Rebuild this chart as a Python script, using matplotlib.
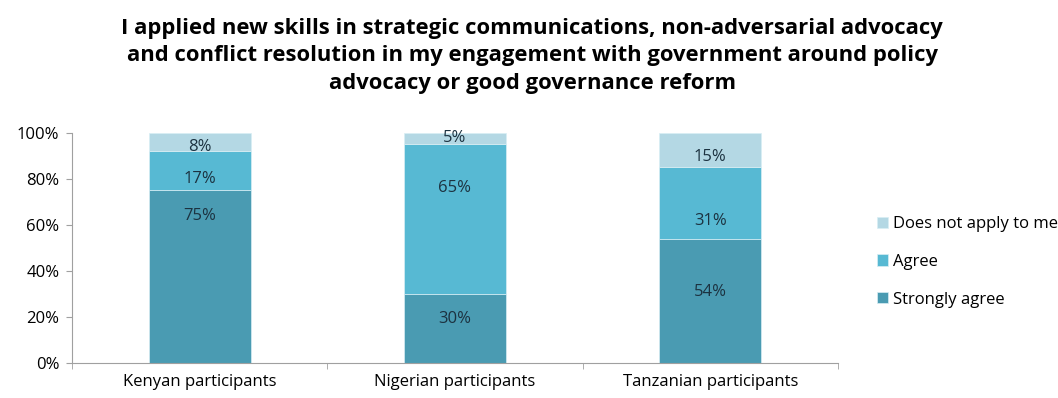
import numpy as np
from matplotlib import pyplot as plt

plt.rcParams['font.family'] = ['Open Sans', 'DejaVu Sans']

# survey data (percent)
groups = ["Kenyan participants", "Nigerian participants", "Tanzanian participants"]
strongly_agree = [75, 30, 54]
agree = [17, 65, 31]
not_apply = [8, 5, 15]

# where the value labels sit (percent height), as in the original chart
label_strong = [64, 19, 31]
label_agree = [80, 76, 61.5]
label_not_apply = [94, 98, 89.5]

title = ("I applied new skills in strategic communications, non-adversarial advocacy\n"
         "and conflict resolution in my engagement with government around policy\n"
         "advocacy or good governance reform")

c_strong = "#4a9bb2"
c_agree = "#57b9d3"
c_na = "#b4d8e4"
txt = "#1c3240"

fig = plt.figure(figsize=(10.58, 3.98), dpi=100)
ax = fig.add_axes([0.068, 0.088, 0.724, 0.578])

x = np.arange(len(groups))
w = 0.4
b1 = ax.bar(x, strongly_agree, w, color=c_strong, label="Strongly agree",
            edgecolor="#d8eef4", linewidth=0.5)
b2 = ax.bar(x, agree, w, bottom=strongly_agree, color=c_agree, label="Agree",
            edgecolor="#d8eef4", linewidth=0.5)
bottom3 = np.array(strongly_agree) + np.array(agree)
b3 = ax.bar(x, not_apply, w, bottom=bottom3, color=c_na, label="Does not apply to me",
            edgecolor="#d8eef4", linewidth=0.5)

# value labels
for i in range(len(groups)):
    ax.text(x[i], label_strong[i], str(strongly_agree[i]) + "%", ha="center", va="center",
            fontsize=12, color=txt)
    ax.text(x[i], label_agree[i], str(agree[i]) + "%", ha="center", va="center",
            fontsize=12, color=txt)
    ax.text(x[i], label_not_apply[i], str(not_apply[i]) + "%", ha="center", va="center",
            fontsize=12, color=txt)

ax.set_xlim(-0.5, len(groups) - 0.5)
ax.set_ylim(0, 100)
ax.set_yticks(np.arange(0, 101, 20))
ax.set_yticklabels([str(v) + "%" for v in range(0, 101, 20)], fontsize=12)
ax.set_xticks(x)
ax.set_xticklabels(groups, fontsize=12)
ax.tick_params(axis="x", length=0, pad=8)
ax.set_xticks(np.arange(-0.5, len(groups), 1), minor=True)
ax.tick_params(axis="x", which="minor", length=4, color="#a0a0a0")
ax.tick_params(axis="y", length=4, color="#a0a0a0", pad=5)

for s in ["top", "right"]:
    ax.spines[s].set_visible(False)
for s in ["left", "bottom"]:
    ax.spines[s].set_color("#a0a0a0")

handles = [b3, b2, b1]
leg = fig.legend(handles, [h.get_label() for h in handles], loc="center left",
                 bbox_to_anchor=(0.815, 0.342), frameon=False, fontsize=12,
                 handlelength=0.65, handleheight=0.65, handletextpad=0.3, labelspacing=1.3)

fig.text(0.503, 0.955, title, ha="center", va="top", fontsize=15.8, fontweight="bold",
         linespacing=1.4)

fig.savefig("out.png", dpi=100)
